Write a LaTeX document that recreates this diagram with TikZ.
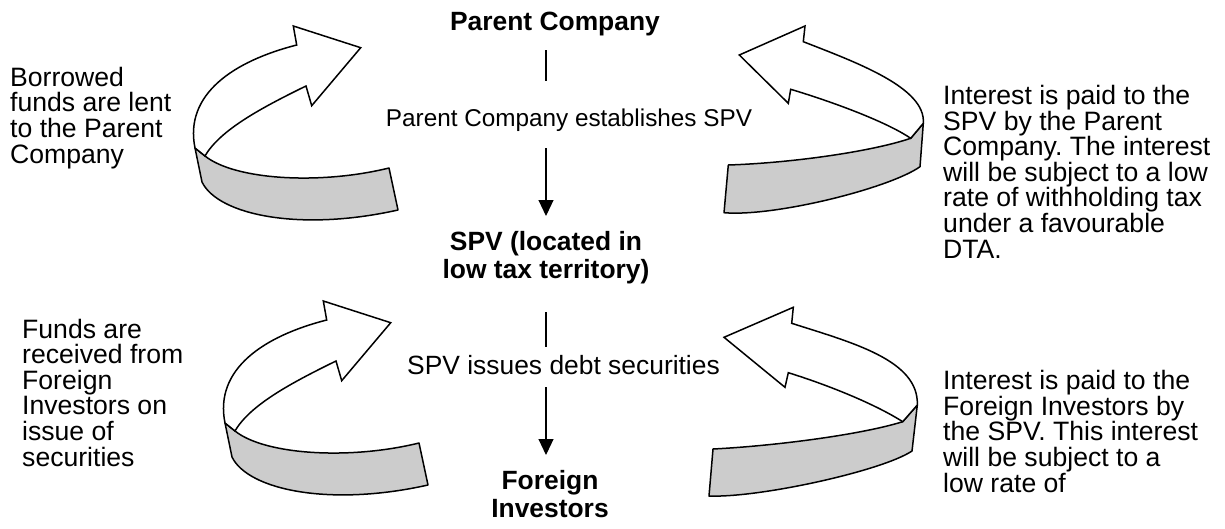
\documentclass[tikz,border=0pt]{standalone}
\usepackage{fontspec}
\setmainfont{Liberation Sans}
\usetikzlibrary{arrows.meta,calc}
\definecolor{bandgray}{RGB}{204,204,204}
\frenchspacing
\tikzset{
  side/.style={inner sep=0pt, align=left, anchor=base west, font=\fontsize{26.6}{25.6}\selectfont},
  title/.style={inner sep=0pt, align=center, anchor=base, font=\fontsize{26.4}{27.3}\selectfont\bfseries},
  midlabel/.style={inner sep=0pt, anchor=base, font=\fontsize{24.3}{26}\selectfont},
  midlabelb/.style={inner sep=0pt, anchor=base, font=\fontsize{26.4}{26}\selectfont},
  conn/.style={line width=1.1pt},
  carrow/.style={line width=1.1pt, -{Triangle[width=15pt,length=16pt]}},
  band/.style={draw=black, fill=bandgray, line width=1.5pt, line join=round},
  body/.style={draw=black, fill=white, line width=1.5pt, line join=miter},
  leftarrow/.pic={
    \draw[band] (195,148) -- (202,182) .. controls (218,215) and (300,232) .. (398,210)
      -- (389,168) .. controls (320,185) and (235,180) .. (205,156) -- cycle;
    \draw[body] (296.7,45) -- (293.3,26) -- (360.7,47.7) -- (311.7,105.7) -- (306,86)
      .. controls (261,108) and (220,130) .. (205,156) -- (195,148)
      .. controls (184,94) and (234,61) .. (296.7,45) -- cycle;
  },
}
\begin{document}
\begin{tikzpicture}[x=1pt,y=-1pt]
\useasboundingbox (0,0) rectangle (1225,528);

% curved arrows
\pic at (0,0) {leftarrow};
\pic at (30,275) {leftarrow};

% top right
\draw[band] (923.3,123.3) -- (920,166.7) .. controls (890,188) and (775,217) .. (724,212.7)
  -- (728.3,165) .. controls (790,163) and (870,152) .. (910.7,138.3) -- cycle;
\draw[body] (803.3,41.7) -- (805,26) -- (739.3,55) -- (788.3,103.3) -- (790.7,89.3)
  .. controls (830.7,101.3) and (885.7,121.3) .. (910.7,138.3) -- (923.3,123.3)
  .. controls (926,88) and (858,63) .. (803.3,41.7) -- cycle;

% bottom right
\draw[band] (917.3,405) -- (912,451) .. controls (882,471) and (759,498) .. (709,496)
  -- (713,449) .. controls (773,446) and (860,435) .. (902.7,421.7) -- cycle;
\draw[body] (791.7,323.3) -- (793.3,307.3) -- (724,337.3) -- (785,387.3) -- (788.3,372.7)
  .. controls (828,385) and (875,404) .. (902.7,421.7) -- (917.3,405)
  .. controls (919,360) and (851.7,342.5) .. (791.7,323.3) -- cycle;

% central nodes (multi-line nodes: base = last line)
\node[title] (pc) at (555,30.7) {Parent Company};
\node[midlabel] (l1) at (569,126.7) {Parent Company establishes SPV};
\node[title] (spv) at (546,278) {SPV (located in\\low tax territory)};
\node[midlabelb] (l2) at (563.5,374) {SPV issues debt securities};
\node[title] (fi) at (550,517) {Foreign\\Investors};

\draw[conn] ($(pc.base -| spv.base)+(0,19.3)$) -- ($(l1.base -| spv.base)+(0,-45.7)$);
\draw[carrow] ($(l1.base -| spv.base)+(0,21.3)$) -- ($(spv.base)+(0,-62)$);
\draw[conn] ($(spv.base)+(0,34)$) -- ($(l2.base -| spv.base)+(0,-27)$);
\draw[carrow] ($(l2.base -| spv.base)+(0,13)$) -- ($(fi.base -| spv.base)+(0,-62)$);

% side texts
\node[side] (tl) at (10,163) {Borrowed\\funds are lent\\to the Parent\\Company};
\node[side] (bl) at (22,466) {Funds are\\received from\\Foreign\\Investors on\\issue of\\securities};
\node[side] (tr) at (943,258) {Interest is paid to the\\SPV by the Parent\\Company. The interest\\will be subject to a low\\rate of withholding tax\\under a favourable\\DTA.};
\node[side] (br) at (943,492) {Interest is paid to the\\Foreign Investors by\\the SPV. This interest\\will be subject to a\\low rate of};
\end{tikzpicture}
\end{document}
